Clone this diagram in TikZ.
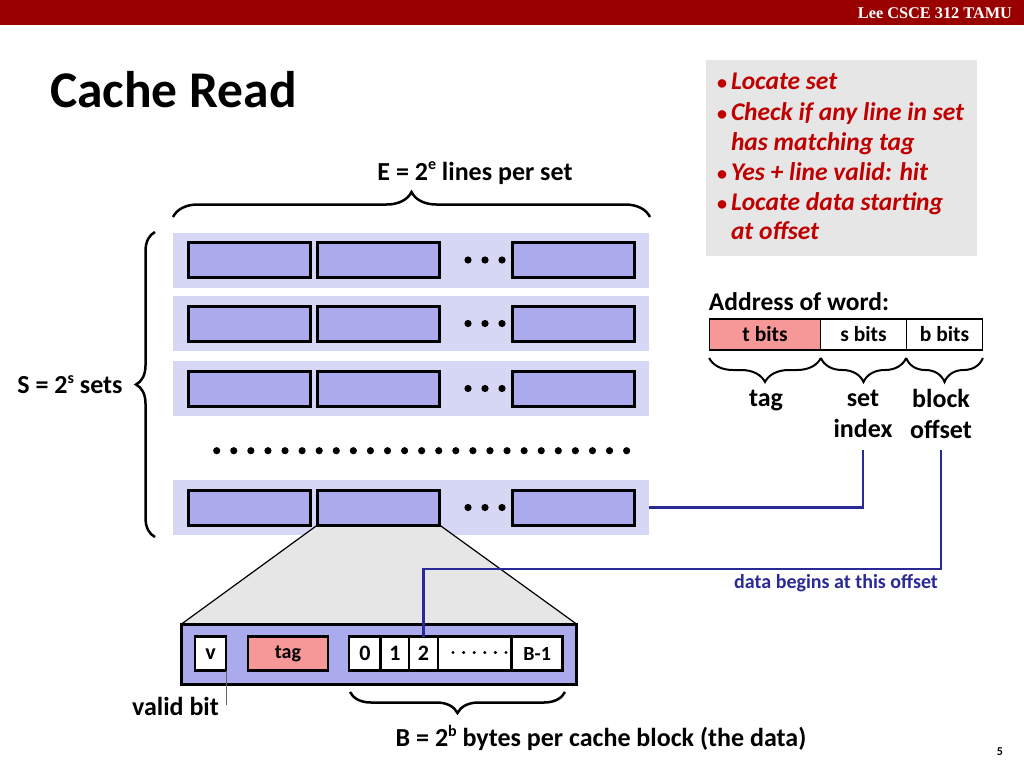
\documentclass[tikz,border=0pt]{standalone}
\usepackage{fontspec}
\setmainfont{Carlito}
\newfontfamily\headfont{Liberation Serif}
\usetikzlibrary{decorations.pathreplacing,backgrounds}
\pgfdeclarelayer{rows}
\pgfsetlayers{rows,background,main}
\newcommand\fs[1]{\fontsize{#1}{#1}\selectfont\bfseries}
\newcommand\powr[1]{\raisebox{0.8ex}{\fontsize{16}{16}\selectfont #1}}
\definecolor{headred}{RGB}{153,0,0}
\definecolor{setbg}{RGB}{214,214,245}
\definecolor{linefill}{RGB}{170,170,236}
\definecolor{tagpink}{RGB}{246,152,152}
\definecolor{notegray}{RGB}{230,230,230}
\definecolor{notered}{RGB}{192,0,0}
\definecolor{wireblue}{RGB}{42,42,150}

\begin{document}
\begin{tikzpicture}[x=1pt,y=-1pt,
    every node/.style={inner sep=0pt,outer sep=0pt},
    set row/.style={fill=setbg,minimum width=476pt,minimum height=55pt},
    line box/.style={draw,line width=3pt,fill=linefill,minimum width=122pt,minimum height=35pt},
    cell/.style={draw,line width=2.5pt,fill=white,minimum height=34pt,font=\fs{22}},
    addr/.style={draw,line width=1.2pt,minimum height=31pt,font=\fs{21.5}},
    big brace/.style={decorate,decoration={brace,amplitude=#1},line width=2.5pt},
    small brace/.style={decorate,decoration={brace,amplitude=24pt,mirror},line width=2pt},
    blue line/.style={draw=wireblue,line width=2.5pt},
    label/.style={font=\fs{26},align=center}]
  \useasboundingbox (0,0) rectangle (1024,768);

  % header and title
  \fill[headred] (0,0) rectangle (1024,25);
  \node[anchor=base east,text=white,font=\headfont\bfseries\fontsize{16.3}{16}\selectfont] (head) at (1012,19) {Lee CSCE 312 TAMU};
  \node[anchor=base west,font=\fs{51.5}] (title) at (50,107) {Cache Read};
  \node[font=\fs{12}] (page) at (1000,752) {5};

  % the sets
  \foreach \r/\y in {1/260,2/323.5,3/388.5,4/507.5}{
    \begin{pgfonlayer}{rows}
      \node[set row] (set\r) at (411,\y) {};
    \end{pgfonlayer}
    \node[line box] (line\r-1) at (249.5,\y) {};
    \node[line box] (line\r-2) at (378.5,\y) {};
    \node[line box] (line\r-3) at (573.5,\y) {};
    \foreach \x in {468,485,502} \fill (\x,\y) circle (3.6pt);
  }
  \foreach \i in {0,...,24} \fill (216.7+\i*17.08,450.7) circle (3.6pt);

  \draw[big brace=25pt] (173,217) -- (650,217);
  \node[label] (elbl) at (475,173) {E = 2\powr{e} lines per set};
  \draw[big brace=19pt] (155,537) -- (155,232);
  \node[label] (slbl) at (70,385) {S = 2\powr{s} sets};

  % one line, zoomed
  \node[draw,line width=3pt,fill=linefill,minimum width=395pt,minimum height=60pt] (blk) at (379,654) {};
  \begin{scope}[on background layer]
    \fill[notegray] (line4-2.south west) -- (line4-2.south east) -- (blk.north east) -- (blk.north west) -- cycle;
    \draw[line width=1.2pt] (line4-2.south west) -- (blk.north west)
                            (line4-2.south east) -- (blk.north east);
  \end{scope}
  \node[cell,minimum width=31pt] (v) at (210.5,653.7) {v};
  \node[cell,fill=tagpink,minimum width=80pt,font=\fs{20}] (tg) at (288,653.7) {tag};
  \node[cell,minimum width=31.7pt,anchor=west] (c0) at (349,653.7) {0};
  \node[cell,minimum width=28.3pt,anchor=west] (c1) at (c0.east) {1};
  \node[cell,minimum width=29pt,anchor=west] (c2) at (c1.east) {2};
  \node[cell,minimum width=73.7pt,anchor=west] (cdots) at (c2.east) {};
  \foreach \i in {0,...,5} \fill (453+\i*10.6,652.5) circle (1.7pt);
  \node[cell,minimum width=51pt,anchor=west,font=\fs{20}] (cend) at (cdots.east) {B-1};

  \node[label] (vbit) at (175.5,706) {valid bit};
  \draw[black!60,line width=1pt] (v.south east) -- ++(0,34);
  \draw[big brace=21pt,decoration={mirror}] (350,692) -- (565,692);
  \node[label] (blbl) at (601,738) {B = 2\powr{b} bytes per cache block (the data)};

  % address
  \node[label,font=\fs{25.5}] (addrlbl) at (799,302) {Address of word:};
  \node[addr,fill=tagpink,minimum width=111.7pt] (tb) at (765,334.5) {t bits};
  \node[addr,minimum width=85.3pt,anchor=west] (sb) at (tb.east) {s bits};
  \node[addr,minimum width=76.7pt,anchor=west] (bb) at (sb.east) {b bits};
  \draw[small brace] ([yshift=-8pt]tb.south west) -- ([yshift=-8pt]tb.south east);
  \draw[small brace] ([yshift=-8pt]sb.south west) -- ([yshift=-8pt]sb.south east);
  \draw[small brace] ([yshift=-8pt]bb.south west) -- ([yshift=-8pt]bb.south east);
  \node[label] (taglbl) at (766,400) {tag};
  \node[label,font=\fontsize{26}{31}\selectfont\bfseries] (idxlbl) at (863,414) {set\\index};
  \node[label,font=\fontsize{26}{31}\selectfont\bfseries] (offlbl) at (941,414) {block\\offset};

  \coordinate (idx) at (863,450);
  \coordinate (offs) at (941,450);
  \coordinate (turn) at (941,569);
  \draw[blue line] (idx) |- (set4.east);
  \draw[blue line] (offs) -- (turn) -| (c2.north);
  \node[font=\fs{20},text=wireblue] (datalbl) at (836,583) {data begins at this offset};

  % notes
  \node[fill=notegray,minimum width=271pt,minimum height=196pt] (note) at (841.5,158) {};
  \foreach \y/\b/\t in {89/•/Locate set,120/•/Check if any line in set,150//has matching tag,
                        180/•/Yes + line valid: hit,210/•/Locate data starting,239//at offset}{
    \node[anchor=base west,font=\fs{20},text=notered] at (717,\y) {\b};
    \node[anchor=base west,font=\fs{25.5}\itshape,text=notered] at (731,\y) {\t};
  }
\end{tikzpicture}
\end{document}
